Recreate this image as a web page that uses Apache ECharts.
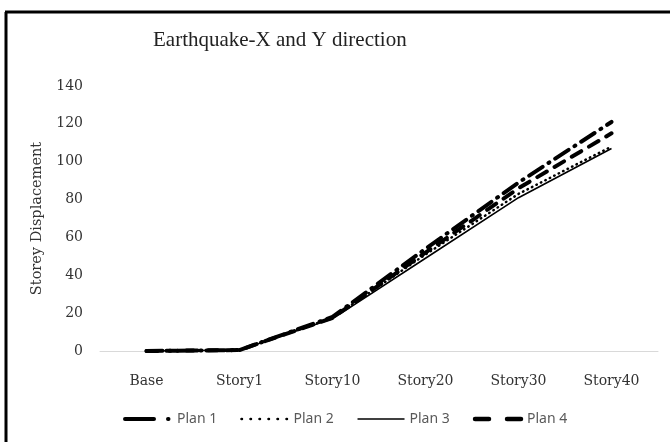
<!DOCTYPE html>
<html>
<head>
<meta charset="utf-8">
<script src="https://cdn.jsdelivr.net/npm/echarts@6/dist/echarts.min.js"></script>
<style>html,body{margin:0;padding:0;background:#fff}#c{width:670px;height:442px}</style>
</head>
<body>
<div id="c"></div>
<script>
const categories = ['Base', 'Story1', 'Story10', 'Story20', 'Story30', 'Story40'];
const plan1 = [0, 0.5, 18, 54, 89, 121];
const plan2 = [0, 0.5, 17.5, 51, 83, 108];
const plan3 = [0, 0.5, 17, 49, 81, 107];
const plan4 = [0, 0.5, 17.5, 52, 86, 115];
const yTicks = [0, 20, 40, 60, 80, 100, 120, 140];

const styles = {
  'Plan 1': { color: '#000', width: 4, type: [16, 7, 1, 7], cap: 'round' },
  'Plan 2': { color: '#000', width: 2.5, type: [0.5, 4.5], cap: 'round' },
  'Plan 3': { color: '#000', width: 1.6, type: 'solid' },
  'Plan 4': { color: '#000', width: 4, type: [11, 9], cap: 'round' }
};
const legendStyles = {
  'Plan 1': { color: '#000', width: 4, type: [29, 14, 0.5, 20], cap: 'round' },
  'Plan 2': { color: '#000', width: 2.5, type: [0.5, 8.5], cap: 'round' },
  'Plan 3': { color: '#000', width: 1.6, type: 'solid' },
  'Plan 4': { color: '#000', width: 4.5, type: [14, 18], cap: 'round' }
};

const chart = echarts.init(document.getElementById('c'));
const serif = 'DejaVu Serif';
chart.setOption({
  animation: false,
  title: {
    text: 'Earthquake-X and Y direction',
    left: 148, top: 25,
    textStyle: { fontFamily: 'Liberation Serif', fontSize: 21, fontWeight: 'normal', color: '#222' }
  },
  graphic: [
    { type: 'line', shape: { x1: 6, y1: 12, x2: 6, y2: 442 }, style: { stroke: '#000', lineWidth: 3 } },
    { type: 'line', shape: { x1: 5, y1: 12, x2: 670, y2: 12 }, style: { stroke: '#000', lineWidth: 3 } }
  ],
  grid: { left: 100, right: 12, top: 86, bottom: 91 },
  legend: {
    bottom: 11, left: 118,
    itemWidth: 47, itemHeight: 10, itemGap: 23,
    itemStyle: { opacity: 0 },
    textStyle: { fontFamily: 'Noto Sans', fontSize: 14, color: '#595959' },
    data: ['Plan 1', 'Plan 2', 'Plan 3', 'Plan 4'].map(n => ({ name: n, lineStyle: legendStyles[n], itemStyle: { opacity: 0 } }))
  },
  xAxis: {
    type: 'category', data: categories, boundaryGap: true,
    axisLine: { show: true, lineStyle: { color: '#d9d9d9', width: 1 } },
    axisTick: { show: false },
    axisLabel: { fontFamily: serif, fontSize: 14, color: '#333', margin: 23 }
  },
  yAxis: {
    type: 'value', min: yTicks[0], max: yTicks[yTicks.length - 1], interval: 20,
    name: 'Storey Displacement', nameLocation: 'middle', nameGap: 55,
    nameTextStyle: { fontFamily: serif, fontSize: 14.5, color: '#333' },
    splitLine: { show: false },
    axisLine: { show: false }, axisTick: { show: false },
    axisLabel: { fontFamily: serif, fontSize: 14, color: '#333', margin: 17 }
  },
  series: [
    { name: 'Plan 1', type: 'line', data: plan1, symbol: 'none', z: 4, lineStyle: styles['Plan 1'], itemStyle: { color: '#000' } },
    { name: 'Plan 2', type: 'line', data: plan2, symbol: 'none', z: 3, lineStyle: styles['Plan 2'], itemStyle: { color: '#000' } },
    { name: 'Plan 3', type: 'line', data: plan3, symbol: 'none', z: 2, lineStyle: styles['Plan 3'], itemStyle: { color: '#000' } },
    { name: 'Plan 4', type: 'line', data: plan4, symbol: 'none', z: 5, lineStyle: styles['Plan 4'], itemStyle: { color: '#000' } }
  ]
});
</script>
</body>
</html>
